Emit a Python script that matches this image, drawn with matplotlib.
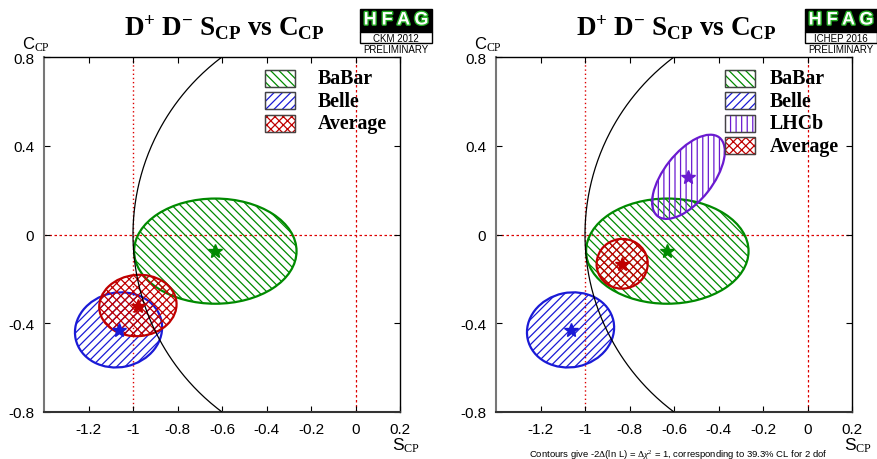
import matplotlib
matplotlib.use("Agg")
import matplotlib.pyplot as plt
import numpy as np
from matplotlib.patches import Ellipse, Rectangle
import matplotlib.patheffects as pe

plt.rcParams['font.family'] = ['Liberation Sans', 'DejaVu Sans']
plt.rcParams['mathtext.fontset'] = 'custom'
plt.rcParams['mathtext.rm'] = 'Liberation Serif'
plt.rcParams['mathtext.bf'] = 'Liberation Serif:bold'
plt.rcParams['mathtext.it'] = 'Liberation Serif:italic'
plt.rcParams['hatch.linewidth'] = 0.9

# measurements: name, S, C, semi-axis S, semi-axis C, angle (deg), colour, hatch
babar = ['BaBar', -0.63, -0.075, 0.365, 0.237, 0, '#008a00', '\\\\\\\\']
belle = ['Belle', -1.065, -0.43, 0.197, 0.168, 12, '#1a1ad6', '////']
lhcb = ['LHCb', -0.535, 0.26, 0.225, 0.11, 52, '#6a1ad0', '|||']
avg_2012 = ['Average', -0.978, -0.32, 0.174, 0.138, 5, '#c00000', 'xxxx']
avg_2016 = ['Average', -0.833, -0.132, 0.115, 0.112, 10, '#c00000', 'xxxx']

panels = [
    {'left': 44, 'meas': [babar, belle, avg_2012], 'conf': 'CKM 2012',
     'box': 0.621, 'logo': 360},
    {'left': 496, 'meas': [babar, belle, lhcb, avg_2016], 'conf': 'ICHEP 2016',
     'box': 0.643, 'logo': 805},
]
xticks = [-1.2, -1.0, -0.8, -0.6, -0.4, -0.2, 0.0, 0.2]
xticklabels = ['-1.2', '-1', '-0.8', '-0.6', '-0.4', '-0.2', '0', '0.2']
yticks = [-0.8, -0.4, 0.0, 0.4, 0.8]
yticklabels = ['-0.8', '-0.4', '0', '0.4', '0.8']

W, H = 877, 460
fig = plt.figure(figsize=(W / 100, H / 100), dpi=100)


def fx(x):
    return x / W


def fy(y):
    return 1 - y / H


title = r'$\mathbf{D^{+}\ D^{-}\ S_{CP}\ vs\ C_{CP}}$'

for p in panels:
    L = p['left']
    ax = fig.add_axes([fx(L), fy(413), 356 / W, 355 / H])
    ax.set_xlim(-1.4, 0.2)
    ax.set_ylim(-0.8, 0.8)
    ax.set_xticks(xticks)
    ax.set_xticklabels(xticklabels)
    ax.set_yticks(yticks)
    ax.set_yticklabels(yticklabels)
    ax.tick_params(direction='in', top=True, right=True, length=4,
                   labelsize=11, pad=7)
    for s in ax.spines.values():
        s.set_linewidth(1.0)
    ax.spines['left'].set_color('#777777')
    ax.spines['bottom'].set_color('#333333')
    ax.spines['left'].set_linewidth(1.5)
    ax.spines['bottom'].set_linewidth(1.5)

    # reference lines
    ax.axhline(0, color='#dd0000', ls=(0, (2, 2)), lw=0.9, zorder=1)
    ax.axvline(0, color='#dd0000', ls=(0, (2, 2)), lw=0.9, zorder=1)
    ax.axvline(-1, color='#dd0000', ls=(0, (1, 2)), lw=1.0, zorder=1)

    for m in p['meas']:
        name, s, c, a, b, ang, col, hat = m
        e = Ellipse((s, c), 2 * a, 2 * b, angle=ang, facecolor='none',
                    edgecolor=col, hatch=hat, lw=1.6, zorder=2)
        ax.add_patch(e)
        ax.plot(s, c, marker='*', ms=10, color=col, mec=col, zorder=4)

    # physical boundary S^2 + C^2 = 1
    cc = np.linspace(-0.8, 0.8, 200)
    ax.plot(-np.sqrt(1 - cc ** 2), cc, color='black', lw=0.9, zorder=3)

    # legend
    bx = p['box']
    for i, m in enumerate(p['meas']):
        name, s, c, a, b, ang, col, hat = m
        yc = 0.94 - i * 0.0635
        ax.add_patch(Rectangle((bx, yc - 0.024), 0.085, 0.048,
                               transform=ax.transAxes, facecolor='white',
                               edgecolor=col, hatch=hat, lw=0.8, zorder=5))
        ax.add_patch(Rectangle((bx, yc - 0.024), 0.085, 0.048,
                               transform=ax.transAxes, facecolor='none',
                               edgecolor='#444444', lw=1.0, zorder=6))
        ax.text(0.77, yc, name, transform=ax.transAxes,
                family='Liberation Serif', weight='bold', fontsize=14.3,
                va='center', ha='left', zorder=6)

    # titles and axis labels
    fig.text(fx(L + 180), fy(28), title, fontsize=19.5, ha='center', va='center')
    fig.text(fx(L - 22), fy(45), r'C$_{\rm CP}$', fontsize=12, ha='left',
             va='center')
    fig.text(fx(L + 348), fy(446), r'S$_{\rm CP}$', fontsize=12.5, ha='left',
             va='center')

    # HFAG logo
    lx = p['logo']
    fig.patches.append(Rectangle((fx(lx), fy(33)), 72 / W, 23 / H,
                                 transform=fig.transFigure, facecolor='black',
                                 edgecolor='black', zorder=1))
    fig.patches.append(Rectangle((fx(lx), fy(44)), 72 / W, 11 / H,
                                 transform=fig.transFigure, facecolor='white',
                                 edgecolor='black', lw=1, zorder=1))
    fig.text(fx(lx + 36), fy(21), 'H F A G', fontsize=13, weight='bold',
             color='white', ha='center', va='center',
             path_effects=[pe.withStroke(linewidth=2, foreground='#22aa22')])
    fig.text(fx(lx + 36), fy(38.5), p['conf'], fontsize=7, ha='center',
             va='center')
    fig.text(fx(lx + 36), fy(50), 'PRELIMINARY', fontsize=7, ha='center',
             va='center')

fig.text(fx(678), fy(455),
         r'Contours give -2$\Delta$(ln L) = $\Delta\chi^2$ = 1, corresponding to 39.3% CL for 2 dof',
         fontsize=6.8, ha='center', va='center')

fig.savefig('out.png', dpi=100)
